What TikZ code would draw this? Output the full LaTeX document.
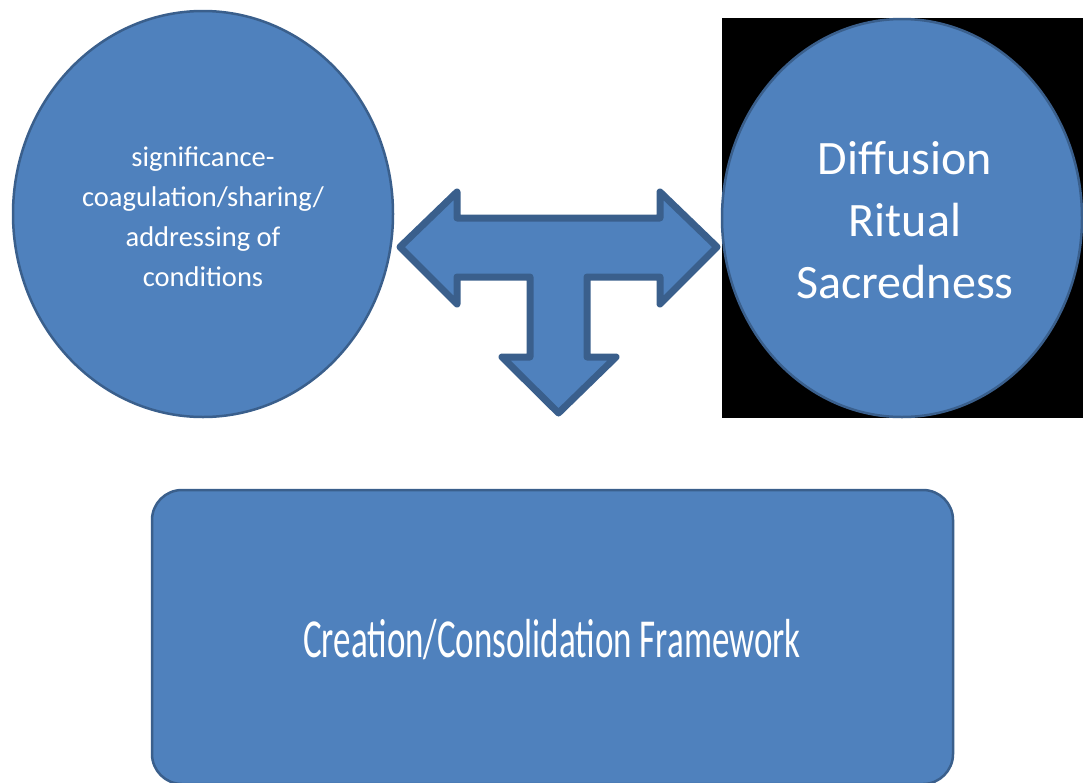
\documentclass[tikz,border=0pt]{standalone}
\usepackage{fontspec}
\setmainfont{Carlito}
\usetikzlibrary{shapes.geometric}
\definecolor{ofblue}{HTML}{4F81BD}
\definecolor{ofline}{HTML}{3A5F8C}
\tikzset{
  bubble/.style={ellipse, fill=ofblue, draw=ofline, line width=2.5pt, inner sep=0pt, minimum width=#1},
  lbl/.style={text=white, align=center, font=\fontsize{28.5}{40}\selectfont},
  bigl/.style={text=white, align=center, font=\fontsize{48}{62}\selectfont},
  tarrow/.style={fill=ofblue, draw=ofline, line width=7pt, line join=round},
  panel/.style={fill=ofblue, draw=ofline, line width=2.5pt, rounded corners=30pt}
}
\begin{document}
\begin{tikzpicture}[x=1pt,y=-1pt]
\useasboundingbox (0,0) rectangle (1083,782);
% black backdrop behind right circle
\fill[black] (722,18) rectangle (1083,418);
% left circle
\node[bubble=380pt, minimum height=406pt] (sig) at (203,214) {};
\node[lbl] (sigt) at (203,217) {significance-\\coagulation/sharing/\\addressing of\\conditions};
% right circle
\node[bubble=360pt, minimum height=398pt] (dif) at (902,218) {};
\node[bigl] (dift) at (905,220) {Diffusion\\Ritual\\Sacredness};
% T-shaped three-way arrow
\draw[tarrow] (400,247) -- (457,192) -- (457,218) -- (660,218) -- (660,192) -- (717,247)
  -- (660,304) -- (660,277) -- (587,277) -- (587,357) -- (616,357) -- (558.5,413)
  -- (502,357) -- (530,357) -- (530,277) -- (457,277) -- (457,304) -- cycle;
% bottom panel
\draw[panel] (152,490) rectangle (953,784);
\node[text=white, font=\fontsize{55}{60}\selectfont] (cf) at (552,640) {\scalebox{0.636}[1]{Creation/Consolidation Framework}};
\end{tikzpicture}
\end{document}
